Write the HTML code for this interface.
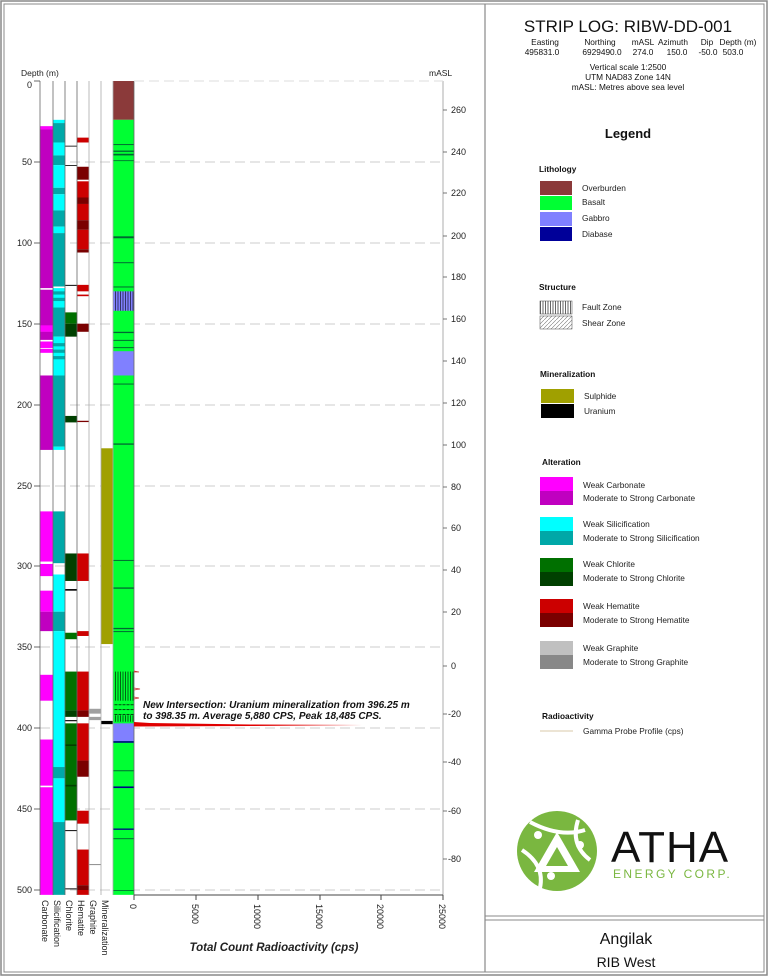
<!DOCTYPE html>
<html><head><meta charset="utf-8"><style>
body{margin:0;background:#fff}
svg{display:block;font-family:"Liberation Sans",Arial,sans-serif}
</style></head><body>
<svg width="768" height="976" viewBox="0 0 768 976" xmlns="http://www.w3.org/2000/svg">
<defs>
<pattern id="fault" width="2.5" height="4" patternUnits="userSpaceOnUse"><line x1="0.5" y1="0" x2="0.5" y2="4" stroke="#000" stroke-width="0.6"/></pattern>
<pattern id="shear" width="4" height="3" patternUnits="userSpaceOnUse"><line x1="0" y1="1.5" x2="4" y2="1.5" stroke="#000" stroke-width="0.5" stroke-dasharray="1.5 1"/></pattern>
<pattern id="shear2" width="4" height="4" patternUnits="userSpaceOnUse"><path d="M0 4L4 0" stroke="#777" stroke-width="0.6"/></pattern>
</defs>
<rect x="1" y="1" width="766" height="974" fill="none" stroke="#888" stroke-width="1.5"/>
<rect x="4" y="4" width="760" height="968" fill="none" stroke="#888" stroke-width="1"/>
<line x1="485" y1="4" x2="485" y2="972" stroke="#888" stroke-width="1.2"/>
<line x1="485" y1="916" x2="764" y2="916" stroke="#888"/>
<line x1="485" y1="920" x2="764" y2="920" stroke="#888"/>

<g stroke="#ccc" stroke-width="1" stroke-dasharray="10 5">
<line x1="40" y1="162" x2="443" y2="162"/><line x1="40" y1="243" x2="443" y2="243"/>
<line x1="40" y1="324" x2="443" y2="324"/><line x1="40" y1="405" x2="443" y2="405"/>
<line x1="40" y1="486" x2="443" y2="486"/><line x1="40" y1="566" x2="443" y2="566"/>
<line x1="40" y1="647" x2="443" y2="647"/><line x1="40" y1="728" x2="443" y2="728"/>
<line x1="40" y1="809" x2="443" y2="809"/><line x1="40" y1="890" x2="443" y2="890"/>
</g>

<g transform="translate(0,81) scale(1,1.618)">
<g>
<rect x="40" y="28" width="13" height="100" fill="#c000c0"/>
<rect x="40" y="28" width="13" height="2" fill="#ff00ff"/>
<rect x="40" y="129" width="13" height="26" fill="#c000c0"/>
<rect x="40" y="151" width="13" height="4" fill="#ff00ff"/>
<rect x="40" y="155" width="13" height="5" fill="#c000c0"/>
<rect x="40" y="161" width="13" height="4" fill="#ff00ff"/>
<rect x="40" y="165.5" width="13" height="2.5" fill="#ff00ff"/>
<rect x="40" y="182" width="13" height="46" fill="#c000c0"/>
<rect x="40" y="266" width="13" height="31" fill="#ff00ff"/>
<rect x="40" y="298.5" width="13" height="7.5" fill="#ff00ff"/>
<rect x="40" y="315" width="13" height="13" fill="#ff00ff"/>
<rect x="40" y="328" width="13" height="12" fill="#c000c0"/>
<rect x="40" y="367" width="13" height="16" fill="#ff00ff"/>
<rect x="40" y="407" width="13" height="28.5" fill="#ff00ff"/>
<rect x="40" y="436.5" width="13" height="66.5" fill="#ff00ff"/>
</g>
<g>
<rect x="53" y="24" width="12" height="2" fill="#00ffff"/>
<rect x="53" y="26" width="12" height="12" fill="#00a8a8"/>
<rect x="53" y="38" width="12" height="8" fill="#00ffff"/>
<rect x="53" y="46" width="12" height="6" fill="#00a8a8"/>
<rect x="53" y="52" width="12" height="14" fill="#00ffff"/>
<rect x="53" y="66" width="12" height="4" fill="#00a8a8"/>
<rect x="53" y="70" width="12" height="10" fill="#00ffff"/>
<rect x="53" y="80" width="12" height="10" fill="#00a8a8"/>
<rect x="53" y="90" width="12" height="4" fill="#00ffff"/>
<rect x="53" y="94" width="12" height="33" fill="#00a8a8"/>
<rect x="53" y="128" width="12" height="12" fill="#00ffff"/>
<rect x="53" y="130" width="12" height="2" fill="#00a8a8"/>
<rect x="53" y="134" width="12" height="2" fill="#00a8a8"/>
<rect x="53" y="140" width="12" height="18" fill="#00a8a8"/>
<rect x="53" y="158" width="12" height="24" fill="#00ffff"/>
<rect x="53" y="162" width="12" height="2" fill="#00a8a8"/>
<rect x="53" y="166" width="12" height="2" fill="#00a8a8"/>
<rect x="53" y="170" width="12" height="2" fill="#00a8a8"/>
<rect x="53" y="182" width="12" height="44" fill="#00a8a8"/>
<rect x="53" y="226" width="12" height="2" fill="#00ffff"/>
<rect x="53" y="266" width="12" height="32" fill="#00a8a8"/>
<rect x="53" y="305" width="12" height="23" fill="#00ffff"/>
<rect x="53" y="328" width="12" height="12" fill="#00a8a8"/>
<rect x="53" y="340" width="12" height="84" fill="#00ffff"/>
<rect x="53" y="424" width="12" height="7" fill="#00a8a8"/>
<rect x="53" y="431" width="12" height="27" fill="#00ffff"/>
<rect x="53" y="458" width="12" height="45" fill="#00a8a8"/>
</g>
<g>
<rect x="65" y="143" width="12" height="7" fill="#007000"/>
<rect x="65" y="150" width="12" height="8" fill="#004000"/>
<rect x="65" y="207" width="12" height="4" fill="#004000"/>
<rect x="65" y="292" width="12" height="17" fill="#004000"/>
<rect x="65" y="341" width="12" height="4" fill="#007000"/>
<rect x="65" y="365" width="12" height="24" fill="#007000"/>
<rect x="65" y="389" width="12" height="4" fill="#004000"/>
<rect x="65" y="397" width="12" height="60" fill="#007000"/>
<rect x="65" y="410" width="12" height="1" fill="#004000"/>
<rect x="65" y="435" width="12" height="1" fill="#004000"/>
<g fill="#000"><rect x="65" y="40" width="12" height="0.5"/><rect x="65" y="52" width="12" height="0.5"/><rect x="65" y="126" width="12" height="0.6"/><rect x="65" y="314" width="12" height="1"/><rect x="65" y="395" width="12" height="0.7"/><rect x="65" y="463" width="12" height="0.6"/><rect x="65" y="499" width="12" height="0.6"/></g>
</g>
<g>
<rect x="77" y="35" width="12" height="3" fill="#cc0000"/>
<rect x="77" y="53" width="12" height="8" fill="#7a0000"/>
<rect x="77" y="62" width="12" height="10" fill="#cc0000"/>
<rect x="77" y="72" width="12" height="4" fill="#7a0000"/>
<rect x="77" y="76" width="12" height="10" fill="#cc0000"/>
<rect x="77" y="86" width="12" height="6" fill="#7a0000"/>
<rect x="77" y="92" width="12" height="12" fill="#cc0000"/>
<rect x="77" y="104" width="12" height="2" fill="#7a0000"/>
<rect x="77" y="126" width="12" height="4" fill="#cc0000"/>
<rect x="77" y="132" width="12" height="1" fill="#cc0000"/>
<rect x="77" y="150" width="12" height="5" fill="#7a0000"/>
<rect x="77" y="210" width="12" height="0.8" fill="#7a0000"/>
<rect x="77" y="292" width="12" height="17" fill="#cc0000"/>
<rect x="77" y="340" width="12" height="3" fill="#cc0000"/>
<rect x="77" y="365" width="12" height="24" fill="#cc0000"/>
<rect x="77" y="389" width="12" height="4" fill="#7a0000"/>
<rect x="77" y="397" width="12" height="23" fill="#cc0000"/>
<rect x="77" y="420" width="12" height="10" fill="#7a0000"/>
<rect x="77" y="451" width="12" height="8" fill="#cc0000"/>
<rect x="77" y="475" width="12" height="22" fill="#cc0000"/>
<rect x="77" y="497" width="12" height="3" fill="#7a0000"/>
<rect x="77" y="500" width="12" height="3" fill="#cc0000"/>
</g>
<rect x="89" y="388" width="12" height="3" fill="#a0a0a0"/>
<rect x="89" y="393" width="12" height="2" fill="#a0a0a0"/>
<rect x="89" y="484" width="12" height="0.6" fill="#888"/>
<rect x="101" y="227" width="12" height="121" fill="#a0a000"/>
<rect x="101" y="395.5" width="12" height="2" fill="#000"/>
<rect x="113" y="0" width="21" height="24" fill="#8b3a3a"/>
<rect x="113" y="24" width="21" height="479" fill="#00ff33"/>
<rect x="113" y="130" width="21" height="12" fill="#8080ff"/>
<rect x="113" y="130" width="21" height="12" fill="url(#fault)"/>
<rect x="113" y="167" width="21" height="15" fill="#8080ff"/>
<rect x="113" y="365" width="21" height="18" fill="url(#fault)"/>
<rect x="113" y="383" width="21" height="9" fill="url(#shear)"/>
<rect x="113" y="392" width="21" height="4" fill="url(#fault)"/>
<rect x="113" y="397" width="21" height="11" fill="#8080ff"/>
<g fill="#063">
<rect x="113" y="39" width="21" height="0.6"/><rect x="113" y="43" width="21" height="0.8"/><rect x="113" y="45" width="21" height="1"/><rect x="113" y="49" width="21" height="0.5"/><rect x="113" y="96" width="21" height="1.2"/>
<rect x="113" y="112" width="21" height="0.6"/><rect x="113" y="127" width="21" height="0.6"/><rect x="113" y="155" width="21" height="0.8"/><rect x="113" y="160" width="21" height="0.6"/><rect x="113" y="164.5" width="21" height="0.6"/>
<rect x="113" y="187" width="21" height="0.6"/><rect x="113" y="224" width="21" height="0.8"/><rect x="113" y="296" width="21" height="0.6"/><rect x="113" y="313" width="21" height="0.8"/><rect x="113" y="338" width="21" height="0.8"/><rect x="113" y="340" width="21" height="0.6"/>
<rect x="113" y="426" width="21" height="0.6"/><rect x="113" y="468" width="21" height="0.6"/><rect x="113" y="500" width="21" height="0.5"/>
</g>
<g fill="#000088"><rect x="113" y="408" width="21" height="1"/><rect x="113" y="436" width="21" height="1"/><rect x="113" y="462" width="21" height="0.8"/></g>
</g>

<g stroke="#666" stroke-width="0.8">
<line x1="40" y1="81" x2="40" y2="895"/><line x1="53" y1="81" x2="53" y2="895"/><line x1="65" y1="81" x2="65" y2="895"/><line x1="77" y1="81" x2="77" y2="895"/><line x1="89" y1="81" x2="89" y2="895" stroke="#aaa"/><line x1="101" y1="81" x2="101" y2="895" stroke="#aaa"/>
<line x1="113" y1="81" x2="113" y2="895" stroke="#aaa"/><line x1="134" y1="81" x2="134" y2="895"/>
<line x1="443" y1="81" x2="443" y2="895" stroke="#999"/>
</g>
<line x1="134" y1="81" x2="443" y2="81" stroke="#ddd" stroke-dasharray="10 5"/>
<path d="M134 722 L150 723 L250 724.5 L362 725 L250 726 L134 726.5 Z" fill="#e00000"/>
<path d="M134 688 L140 689 L134 690 M134 697 L139 698 L134 699 M134 671 L139 672 L134 672" stroke="#c33" stroke-width="0.7" fill="none"/>

<g font-size="9" text-anchor="end" fill="#222">
<text x="32" y="88">0</text><text x="32" y="165">50</text><text x="32" y="246">100</text><text x="32" y="327">150</text><text x="32" y="408">200</text><text x="32" y="489">250</text><text x="32" y="569">300</text><text x="32" y="650">350</text><text x="32" y="731">400</text><text x="32" y="812">450</text><text x="32" y="893">500</text>
</g>
<g stroke="#444" stroke-width="0.8"><line x1="34" y1="81" x2="40" y2="81"/><line x1="34" y1="162" x2="40" y2="162"/><line x1="34" y1="243" x2="40" y2="243"/><line x1="34" y1="324" x2="40" y2="324"/><line x1="34" y1="405" x2="40" y2="405"/><line x1="34" y1="486" x2="40" y2="486"/><line x1="34" y1="566" x2="40" y2="566"/><line x1="34" y1="647" x2="40" y2="647"/><line x1="34" y1="728" x2="40" y2="728"/><line x1="34" y1="809" x2="40" y2="809"/><line x1="34" y1="890" x2="40" y2="890"/></g>
<text x="21" y="76" font-size="8.5" fill="#222">Depth (m)</text>
<text x="429" y="76" font-size="8.5" fill="#222">mASL</text>
<g font-size="9" fill="#222">
<text x="451" y="113">260</text><text x="451" y="155">240</text><text x="451" y="196">220</text><text x="451" y="239">200</text><text x="451" y="280">180</text><text x="451" y="322">160</text><text x="451" y="364">140</text><text x="451" y="406">120</text><text x="451" y="448">100</text><text x="451" y="490">80</text><text x="451" y="531">60</text><text x="451" y="573">40</text><text x="451" y="615">20</text><text x="451" y="669">0</text><text x="448" y="717">-20</text><text x="448" y="765">-40</text><text x="448" y="814">-60</text><text x="448" y="862">-80</text>
</g>
<g stroke="#555" stroke-width="0.8"><line x1="443" y1="110" x2="447" y2="110"/><line x1="443" y1="152" x2="447" y2="152"/><line x1="443" y1="193" x2="447" y2="193"/><line x1="443" y1="236" x2="447" y2="236"/><line x1="443" y1="277" x2="447" y2="277"/><line x1="443" y1="319" x2="447" y2="319"/><line x1="443" y1="361" x2="447" y2="361"/><line x1="443" y1="403" x2="447" y2="403"/><line x1="443" y1="445" x2="447" y2="445"/><line x1="443" y1="487" x2="447" y2="487"/><line x1="443" y1="528" x2="447" y2="528"/><line x1="443" y1="570" x2="447" y2="570"/><line x1="443" y1="612" x2="447" y2="612"/><line x1="443" y1="666" x2="447" y2="666"/><line x1="443" y1="714" x2="447" y2="714"/><line x1="443" y1="762" x2="447" y2="762"/><line x1="443" y1="811" x2="447" y2="811"/><line x1="443" y1="859" x2="447" y2="859"/></g>
<line x1="134" y1="895" x2="443" y2="895" stroke="#444" stroke-width="1"/>
<g stroke="#444"><line x1="134" y1="895" x2="134" y2="900"/><line x1="196" y1="895" x2="196" y2="900"/><line x1="258" y1="895" x2="258" y2="900"/><line x1="320" y1="895" x2="320" y2="900"/><line x1="381" y1="895" x2="381" y2="900"/><line x1="443" y1="895" x2="443" y2="900"/></g>
<g font-size="9" fill="#222">
<text transform="translate(130,904) rotate(90)">0</text>
<text transform="translate(192,904) rotate(90)">5000</text>
<text transform="translate(254,904) rotate(90)">10000</text>
<text transform="translate(316,904) rotate(90)">15000</text>
<text transform="translate(377,904) rotate(90)">20000</text>
<text transform="translate(439,904) rotate(90)">25000</text>
<text transform="translate(42,900) rotate(90)">Carbonate</text>
<text transform="translate(54,900) rotate(90)">Silicification</text>
<text transform="translate(66,900) rotate(90)">Chlorite</text>
<text transform="translate(78,900) rotate(90)">Hematite</text>
<text transform="translate(90,900) rotate(90)">Graphite</text>
<text transform="translate(102,900) rotate(90)">Mineralization</text>
</g>
<text x="274" y="951" font-size="11.5" font-weight="bold" font-style="italic" text-anchor="middle" fill="#222">Total Count Radioactivity (cps)</text>
<g font-size="10" font-weight="bold" font-style="italic" fill="#111">
<text x="143" y="708">New Intersection: Uranium mineralization from 396.25 m</text>
<text x="143" y="719">to 398.35 m. Average 5,880 CPS, Peak 18,485 CPS.</text>
</g>

<g fill="#111" text-anchor="middle">
<text x="628" y="32" font-size="17">STRIP LOG: RIBW-DD-001</text>
<g font-size="8.3"><text x="545" y="45">Easting</text><text x="600" y="45">Northing</text><text x="643" y="45">mASL</text><text x="658" y="45" text-anchor="start">Azimuth</text><text x="707" y="45">Dip</text><text x="738" y="45">Depth (m)</text>
<text x="542" y="55">495831.0</text><text x="602" y="55">6929490.0</text><text x="643" y="55">274.0</text><text x="677" y="55">150.0</text><text x="708" y="55">-50.0</text><text x="733" y="55">503.0</text>
<text x="628" y="70">Vertical scale 1:2500</text><text x="628" y="80">UTM NAD83 Zone 14N</text><text x="628" y="90">mASL: Metres above sea level</text></g>
<text x="628" y="138" font-size="13" font-weight="bold">Legend</text>
</g>
<g font-size="8.3" fill="#111" font-weight="bold"><text x="539" y="172">Lithology</text><text x="539" y="290">Structure</text><text x="540" y="377">Mineralization</text><text x="542" y="465">Alteration</text><text x="542" y="719">Radioactivity</text></g>
<rect x="540" y="181" width="32" height="14" fill="#8b3a3a"/><rect x="540" y="196" width="32" height="14" fill="#00ff33"/><rect x="540" y="212" width="32" height="14" fill="#8080ff"/><rect x="540" y="227" width="32" height="14" fill="#000099"/>
<rect x="540" y="301" width="32" height="13" fill="url(#fault)" stroke="#444" stroke-width="0.5"/><rect x="540" y="316" width="32" height="13" fill="url(#shear2)" stroke="#444" stroke-width="0.5"/>
<rect x="541" y="389" width="33" height="14" fill="#a0a000"/><rect x="541" y="404" width="33" height="14" fill="#000"/>
<rect x="540" y="477" width="33" height="14" fill="#ff00ff"/><rect x="540" y="491" width="33" height="14" fill="#c000c0"/>
<rect x="540" y="517" width="33" height="14" fill="#00ffff"/><rect x="540" y="531" width="33" height="14" fill="#00a8a8"/>
<rect x="540" y="558" width="33" height="14" fill="#007000"/><rect x="540" y="572" width="33" height="14" fill="#004000"/>
<rect x="540" y="599" width="33" height="14" fill="#cc0000"/><rect x="540" y="613" width="33" height="14" fill="#7a0000"/>
<rect x="540" y="641" width="33" height="14" fill="#c0c0c0"/><rect x="540" y="655" width="33" height="14" fill="#888"/>
<line x1="540" y1="731" x2="573" y2="731" stroke="#d8c8a8" stroke-width="1"/>
<g font-size="8.3" fill="#222">
<text x="582" y="191">Overburden</text><text x="582" y="205">Basalt</text><text x="582" y="221">Gabbro</text><text x="582" y="237">Diabase</text>
<text x="582" y="310">Fault Zone</text><text x="582" y="326">Shear Zone</text>
<text x="584" y="399">Sulphide</text><text x="584" y="414">Uranium</text>
<text x="583" y="488">Weak Carbonate</text><text x="583" y="501">Moderate to Strong Carbonate</text>
<text x="583" y="527">Weak Silicification</text><text x="583" y="541">Moderate to Strong Silicification</text>
<text x="583" y="567">Weak Chlorite</text><text x="583" y="581">Moderate to Strong Chlorite</text>
<text x="583" y="609">Weak Hematite</text><text x="583" y="623">Moderate to Strong Hematite</text>
<text x="583" y="651">Weak Graphite</text><text x="583" y="665">Moderate to Strong Graphite</text>
<text x="583" y="734">Gamma Probe Profile (cps)</text>
</g>
<g>
<circle cx="557" cy="851" r="40" fill="#7ab740"/>
<path d="M530 822 Q560 838 585 830" stroke="#fff" stroke-width="4" fill="none"/>
<path d="M590 860 Q570 845 578 820" stroke="#fff" stroke-width="4" fill="none"/>
<path d="M540 888 Q545 865 522 850" stroke="#fff" stroke-width="4" fill="none"/>
<path d="M557 832 L580 872 L534 872 Z" fill="#fff"/>
<path d="M557 847 L568 866 L546 866 Z" fill="#7ab740"/>
<circle cx="538" cy="835" r="4" fill="#fff"/><circle cx="580" cy="845" r="4" fill="#fff"/><circle cx="551" cy="876" r="4" fill="#fff"/>
</g>
<text x="611" y="862" font-size="44" fill="#111" letter-spacing="1">ATHA</text>
<text x="613" y="878" font-size="12" fill="#7ab740" letter-spacing="2.4">ENERGY CORP.</text>
<text x="626" y="944" font-size="16" text-anchor="middle" fill="#111">Angilak</text>
<text x="626" y="967" font-size="14" text-anchor="middle" fill="#111">RIB West</text>
</svg>
</body></html>
